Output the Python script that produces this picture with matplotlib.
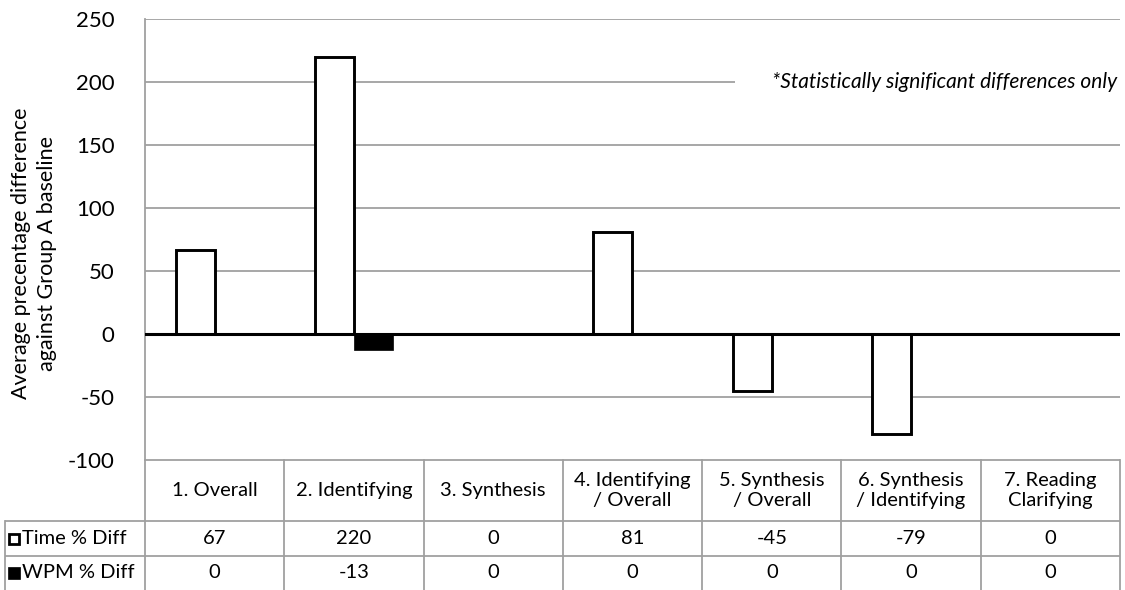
import matplotlib
matplotlib.use("Agg")
import matplotlib.pyplot as plt

plt.rcParams['font.family'] = ['Lato', 'DejaVu Sans']

# Data
categories = ["1. Overall", "2. Identifying", "3. Synthesis", "4. Identifying\n/ Overall",
              "5. Synthesis\n/ Overall", "6. Synthesis\n/ Identifying", "7. Reading\nClarifying"]
time_diff = [67, 220, 0, 81, -45, -79, 0]
wpm_diff = [0, -13, 0, 0, 0, 0, 0]
series_names = ["Time % Diff", "WPM % Diff"]
yticks = [-100, -50, 0, 50, 100, 150, 200, 250]

W, H = 1125, 590
fig = plt.figure(figsize=(W / 100, H / 100), dpi=100)

# plot area in pixels
L, R, T, B = 145, 1120, 19, 460
ax = fig.add_axes([L / W, 1 - B / H, (R - L) / W, (B - T) / H])

grid_c = "#a0a0a0"
n = len(categories)
x = list(range(n))
bw = 0.28
colpx = (R - L) / n

ax.bar([i - bw / 2 for i in x], time_diff, width=bw, color="white",
       edgecolor="black", linewidth=2.1, zorder=3)
ax.bar([i + bw / 2 for i in x], wpm_diff, width=bw, color="black",
       edgecolor="black", linewidth=0.5, zorder=3)

ax.set_xlim(-0.5, n - 0.5)
ax.set_ylim(-100, 250)
ax.set_yticks(yticks)
ax.set_yticklabels([str(v) for v in yticks], fontsize=16)
ax.tick_params(axis="y", length=0, pad=22)
ax.tick_params(axis="x", bottom=False, labelbottom=False)
for yv in yticks:
    if yv == 200:
        # gridline stops before the note
        ax.hlines(yv, -0.5, (735 - L) / colpx - 0.5, color=grid_c, lw=1.3, zorder=1)
    elif yv != 0:
        ax.axhline(yv, color=grid_c, lw=1.3, zorder=1)
ax.axhline(0, color="black", lw=2.2, zorder=4)
for s in ["top", "right", "bottom"]:
    ax.spines[s].set_visible(False)
ax.spines["left"].set_color(grid_c)
ax.spines["left"].set_linewidth(1.3)

ax.set_ylabel("Average precentage difference\nagainst Group A baseline", fontsize=15.5,
              linespacing=1.4)
ax.yaxis.set_label_coords((57 - L) / (R - L), 1 - (253 - T) / (B - T))

ax.text(0.997, (200 + 100) / 350, "*Statistically significant differences only",
        transform=ax.transAxes, ha="right", va="center", fontsize=15, style="italic", zorder=5)

# data table below the plot (y in pixels from top of table)
left_x = -0.5 - (L - 5) / colpx
tax = fig.add_axes([5 / W, 0, (R - 5) / W, (H - B) / H])
tax.set_xlim(left_x, n - 0.5)
tax.set_ylim(H - B, 0)
tax.axis("off")

rows = [0, 61, 96, H - B]
lw_t = 1.3
for k in range(n + 1):
    tax.plot([k - 0.5, k - 0.5], [0, rows[-1]], color=grid_c, lw=lw_t, clip_on=False)
tax.plot([left_x, left_x], [rows[1], rows[-1]], color=grid_c, lw=lw_t, clip_on=False)
tax.plot([-0.5, n - 0.5], [0, 0], color=grid_c, lw=lw_t)
for yr in rows[1:3]:
    tax.plot([left_x, n - 0.5], [yr, yr], color=grid_c, lw=lw_t)

for i, c in enumerate(categories):
    tax.text(i, (rows[0] + rows[1]) / 2, c, ha="center", va="center", fontsize=14.5,
             linespacing=1.15)

for r, vals in enumerate([time_diff, wpm_diff]):
    yc = (rows[r + 1] + rows[r + 2]) / 2
    for i, v in enumerate(vals):
        tax.text(i, yc, str(v), ha="center", va="center", fontsize=14.5)
    kx = left_x + 9 / colpx
    if r == 0:
        tax.plot([kx], [yc], marker="s", ms=7.5, mfc="white", mec="black", mew=2, clip_on=False)
    else:
        tax.plot([kx], [yc], marker="s", ms=8.5, mfc="black", mec="black", mew=0.5, clip_on=False)
    tax.text(left_x + 17 / colpx, yc, series_names[r], ha="left", va="center", fontsize=14.5)

fig.savefig("out.png", dpi=100)
